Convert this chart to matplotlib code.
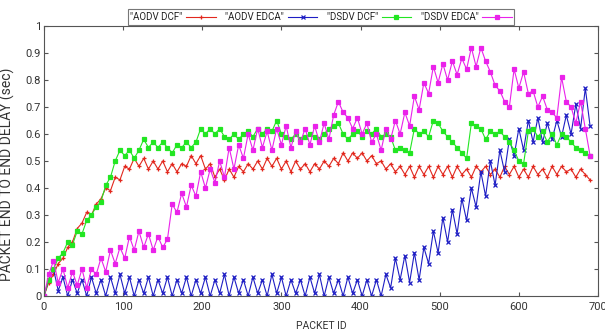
import numpy as np
import matplotlib
matplotlib.use("Agg")
import matplotlib.pyplot as plt

# packet ids sampled every 6 packets
packet_id = np.arange(0, 691, 6)

aodv_dcf = [
    0.00, 0.05, 0.08, 0.12, 0.14, 0.18, 0.20, 0.25, 0.27, 0.31,
    0.30, 0.34, 0.36, 0.40, 0.39, 0.44, 0.43, 0.48, 0.47, 0.51,
    0.48, 0.51, 0.47, 0.50, 0.47, 0.50, 0.46, 0.49, 0.46, 0.49,
    0.48, 0.52, 0.49, 0.52, 0.47, 0.49, 0.44, 0.47, 0.43, 0.47,
    0.44, 0.48, 0.46, 0.49, 0.47, 0.50, 0.47, 0.51, 0.48, 0.51,
    0.47, 0.50, 0.46, 0.50, 0.47, 0.49, 0.46, 0.49, 0.47, 0.50,
    0.48, 0.51, 0.49, 0.53, 0.50, 0.53, 0.51, 0.53, 0.50, 0.52,
    0.49, 0.50, 0.47, 0.49, 0.46, 0.48, 0.45, 0.48, 0.44, 0.48,
    0.45, 0.48, 0.44, 0.48, 0.45, 0.48, 0.44, 0.48, 0.45, 0.47,
    0.44, 0.48, 0.46, 0.48, 0.45, 0.47, 0.44, 0.48, 0.45, 0.48,
    0.44, 0.47, 0.44, 0.48, 0.45, 0.47, 0.44, 0.48, 0.45, 0.48,
    0.46, 0.47, 0.44, 0.47, 0.45, 0.43,
]

aodv_edca = [
    0.00, 0.06, 0.10, 0.02, 0.07, 0.00, 0.06, 0.01, 0.06, 0.00,
    0.07, 0.01, 0.06, 0.00, 0.07, 0.01, 0.08, 0.01, 0.07, 0.00,
    0.06, 0.01, 0.07, 0.00, 0.06, 0.01, 0.07, 0.00, 0.06, 0.01,
    0.07, 0.00, 0.06, 0.01, 0.07, 0.00, 0.06, 0.01, 0.08, 0.00,
    0.07, 0.01, 0.06, 0.00, 0.07, 0.01, 0.06, 0.00, 0.08, 0.01,
    0.07, 0.00, 0.06, 0.01, 0.06, 0.00, 0.07, 0.01, 0.08, 0.00,
    0.07, 0.01, 0.06, 0.00, 0.07, 0.01, 0.06, 0.00, 0.06, 0.00,
    0.06, 0.00, 0.08, 0.03, 0.14, 0.06, 0.15, 0.05, 0.16, 0.06,
    0.18, 0.12, 0.24, 0.16, 0.29, 0.20, 0.32, 0.23, 0.36, 0.28,
    0.40, 0.33, 0.46, 0.37, 0.50, 0.41, 0.54, 0.46, 0.58, 0.52,
    0.62, 0.54, 0.65, 0.57, 0.66, 0.57, 0.64, 0.58, 0.65, 0.59,
    0.67, 0.60, 0.71, 0.62, 0.77, 0.63,
]

dsdv_dcf = [
    0.00, 0.06, 0.10, 0.14, 0.16, 0.20, 0.19, 0.24, 0.23, 0.28,
    0.30, 0.33, 0.35, 0.41, 0.44, 0.50, 0.54, 0.52, 0.54, 0.51,
    0.54, 0.58, 0.55, 0.57, 0.55, 0.57, 0.55, 0.53, 0.56, 0.55,
    0.57, 0.55, 0.57, 0.62, 0.60, 0.62, 0.60, 0.62, 0.59, 0.58,
    0.60, 0.58, 0.60, 0.61, 0.59, 0.62, 0.60, 0.62, 0.61, 0.65,
    0.60, 0.59, 0.58, 0.60, 0.58, 0.59, 0.60, 0.59, 0.58, 0.60,
    0.62, 0.63, 0.64, 0.60, 0.58, 0.60, 0.61, 0.59, 0.61, 0.60,
    0.62, 0.59, 0.60, 0.59, 0.54, 0.55, 0.54, 0.53, 0.62, 0.60,
    0.61, 0.59, 0.65, 0.64, 0.61, 0.59, 0.57, 0.55, 0.53, 0.51,
    0.64, 0.63, 0.62, 0.58, 0.61, 0.60, 0.61, 0.59, 0.57, 0.54,
    0.50, 0.49, 0.61, 0.62, 0.59, 0.61, 0.57, 0.60, 0.56, 0.60,
    0.59, 0.57, 0.55, 0.54, 0.53, 0.52,
]

dsdv_edca = [
    0.00, 0.08, 0.13, 0.05, 0.10, 0.03, 0.09, 0.04, 0.10, 0.03,
    0.10, 0.08, 0.14, 0.09, 0.17, 0.12, 0.18, 0.14, 0.22, 0.17,
    0.24, 0.18, 0.23, 0.17, 0.22, 0.18, 0.21, 0.34, 0.31, 0.38,
    0.33, 0.41, 0.37, 0.46, 0.40, 0.47, 0.42, 0.50, 0.44, 0.55,
    0.47, 0.56, 0.51, 0.60, 0.54, 0.62, 0.55, 0.61, 0.54, 0.62,
    0.56, 0.63, 0.55, 0.61, 0.57, 0.62, 0.56, 0.63, 0.57, 0.64,
    0.58, 0.67, 0.72, 0.68, 0.66, 0.62, 0.66, 0.60, 0.64, 0.57,
    0.60, 0.54, 0.62, 0.58, 0.65, 0.60, 0.68, 0.63, 0.74, 0.69,
    0.79, 0.75, 0.85, 0.79, 0.86, 0.80, 0.87, 0.82, 0.88, 0.84,
    0.92, 0.85, 0.92, 0.87, 0.83, 0.78, 0.76, 0.72, 0.70, 0.84,
    0.77, 0.83, 0.75, 0.76, 0.70, 0.74, 0.69, 0.68, 0.66, 0.81,
    0.72, 0.70, 0.64, 0.72, 0.62, 0.52,
]

labels = ['"AODV DCF"', '"AODV EDCA"', '"DSDV DCF"', '"DSDV EDCA"']
colors = ["#e2281e", "#1e1ec4", "#22e622", "#ea22ea"]
markers = ["+", "x", "s", "s"]
msizes = [3.5, 3, 2.2, 2.4]

plt.rcParams["font.family"] = ["Roboto", "DejaVu Sans"]
plt.rcParams["font.size"] = 8

fig = plt.figure(figsize=(6.05, 3.33), dpi=100)
ax = fig.add_axes([0.0727, 0.1111, 0.9157, 0.8108])

series = [aodv_dcf, aodv_edca, dsdv_dcf, dsdv_edca]
for vals, lab, col, mk, sz in zip(series, labels, colors, markers, msizes):
    ax.plot(packet_id, vals, color=col, lw=0.8, marker=mk,
            ms=sz, mew=0.9, label=lab)

ax.set_xlim(0, 700)
ax.set_ylim(0, 1)
ax.set_xticks(np.arange(0, 701, 100))
ax.set_yticks(np.arange(0, 1.01, 0.1))
ax.set_yticklabels(["0", "0.1", "0.2", "0.3", "0.4", "0.5",
                    "0.6", "0.7", "0.8", "0.9", "1"])
ax.tick_params(direction="in", top=True, right=True, length=3,
               color="#555555", labelsize=8, labelcolor="#333333")
ax.tick_params(axis="y", pad=2)
ax.tick_params(axis="x", pad=4)
for s in ax.spines.values():
    s.set_color("#555555")
    s.set_linewidth(0.8)

ax.set_xlabel("PACKET ID", fontsize=7.5, color="#333333")
ax.xaxis.set_label_coords(0.5, -0.093)
ax.set_ylabel("PACKET END TO END DELAY (sec)", fontsize=10, color="#333333")
ax.yaxis.set_label_coords(-0.052, 0.45)

leg = fig.legend(loc="center", bbox_to_anchor=(0.5306, 0.949), ncol=4,
                 markerfirst=False, frameon=True, fancybox=False,
                 fontsize=7, handlelength=3.0, handletextpad=0.4,
                 columnspacing=1.0, borderpad=0.3, borderaxespad=0)
leg.get_frame().set_edgecolor("#555555")
leg.get_frame().set_linewidth(0.8)
for t in leg.get_texts():
    t.set_color("#222222")

fig.savefig("out.png", dpi=100)
